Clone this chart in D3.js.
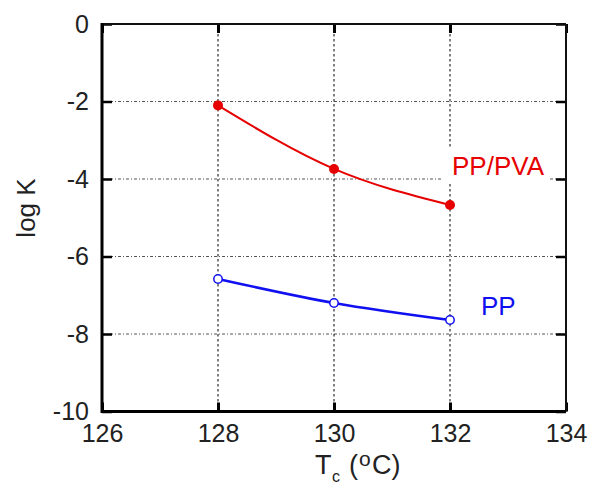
<!DOCTYPE html>
<html>
<head>
<meta charset="utf-8">
<script src="https://cdn.jsdelivr.net/npm/d3@7"></script>
<style>
  body { margin: 0; background: #fff; }
  text { font-family: "Liberation Sans", Arial, sans-serif; }
</style>
</head>
<body>
<svg id="chart" width="591" height="486"></svg>
<script>
// crystallization temperature (x) and log K values
const tc = [128, 130, 132];
const logKPpPva = [-2.1, -3.74, -4.67];
const logKPp = [-6.58, -7.2, -7.64];
const xTicks = [126, 128, 130, 132, 134];
const yTicks = [0, -2, -4, -6, -8, -10];
const seriesNames = ["PP/PVA", "PP"];

var margin = { top: 24, right: 25, bottom: 74.5, left: 102 },
  W = 591, H = 486;

var x = d3.scaleLinear().domain([126, 134]).range([margin.left, W - margin.right]),
  y = d3.scaleLinear().domain([-10, 0]).range([H - margin.bottom, margin.top]);

var svg = d3.select("#chart");
var red = "#e60000", blue = "#1010f0";

// grid
svg.append("g")
  .selectAll("line")
  .data(yTicks.slice(1, -1))
  .enter().append("line")
  .attr("x1", x(126)).attr("x2", x(134))
  .attr("y1", (d) => y(d)).attr("y2", (d) => y(d))
  .attr("stroke", "#555").attr("stroke-width", 1.2)
  .attr("stroke-dasharray", "3,2,1,2");

svg.append("g")
  .selectAll("line")
  .data(xTicks.slice(1, -1))
  .enter().append("line")
  .attr("x1", (d) => x(d)).attr("x2", (d) => x(d))
  .attr("y1", y(0)).attr("y2", y(-10))
  .attr("stroke", "#000").attr("stroke-width", 1)
  .attr("stroke-dasharray", "2.5,2.5");

// axes with inward ticks, plain hyphen for negatives like the original
var axB = d3.axisBottom(x).tickValues(xTicks).tickSize(-9).tickPadding(13),
  axT = d3.axisTop(x).tickValues(xTicks).tickSize(-9).tickFormat(""),
  axL = d3.axisLeft(y).tickValues(yTicks).tickSize(-10).tickPadding(13).tickFormat((d) => String(d)),
  axR = d3.axisRight(y).tickValues(yTicks).tickSize(-10).tickFormat("");

function styleAxis(g, w) {
  g.select(".domain").remove();
  g.selectAll(".tick line").attr("stroke", "#000").attr("stroke-width", w);
  g.selectAll("text").attr("font-size", 25).attr("fill", "#222")
    .style("font-family", "'Liberation Sans', Arial, sans-serif");
}

svg.append("g").attr("transform", "translate(0," + y(-10) + ")").call(axB).call((g) => styleAxis(g, 3));
svg.append("g").attr("transform", "translate(0," + y(0) + ")").call(axT).call((g) => styleAxis(g, 3));
svg.append("g").attr("transform", "translate(" + x(126) + ",0)").call(axL).call((g) => styleAxis(g, 2.5));
svg.append("g").attr("transform", "translate(" + x(134) + ",0)").call(axR).call((g) => styleAxis(g, 2.5));

// frame
svg.append("line").attr("x1", x(126)).attr("x2", x(134)).attr("y1", y(0)).attr("y2", y(0))
  .attr("stroke", "#111").attr("stroke-width", 2);
svg.append("line").attr("x1", x(134)).attr("x2", x(134)).attr("y1", y(0)).attr("y2", y(-10))
  .attr("stroke", "#111").attr("stroke-width", 2);
svg.append("line").attr("x1", x(126)).attr("x2", x(134)).attr("y1", y(-10)).attr("y2", y(-10))
  .attr("stroke", "#000").attr("stroke-width", 3);
svg.append("line").attr("x1", x(126)).attr("x2", x(126)).attr("y1", y(0) - 1).attr("y2", y(-10) + 1.5)
  .attr("stroke", "#000").attr("stroke-width", 3);

// curves
var line = d3.line().x((d) => x(d[0])).y((d) => y(d[1])).curve(d3.curveNatural);
var ppPvaData = tc.map((t, i) => [t, logKPpPva[i]]),
  ppData = tc.map((t, i) => [t, logKPp[i]]);

svg.append("path").datum(ppPvaData).attr("d", line)
  .attr("fill", "none").attr("stroke", red).attr("stroke-width", 2);
svg.append("path").datum(ppData).attr("d", line)
  .attr("fill", "none").attr("stroke", blue).attr("stroke-width", 2.5);

svg.append("g").selectAll("circle").data(ppPvaData).enter().append("circle")
  .attr("cx", (d) => x(d[0])).attr("cy", (d) => y(d[1])).attr("r", 5)
  .attr("fill", red);
svg.append("g").selectAll("circle").data(ppData).enter().append("circle")
  .attr("cx", (d) => x(d[0])).attr("cy", (d) => y(d[1])).attr("r", 4.2)
  .attr("fill", "#fff").attr("stroke", blue).attr("stroke-width", 1.5);

// series labels
svg.append("rect").attr("x", 443).attr("y", 147).attr("width", 107).attr("height", 36).attr("fill", "#fff");
svg.append("text").attr("x", 452).attr("y", 175).attr("font-size", 26).attr("fill", red).text(seriesNames[0]);
svg.append("text").attr("x", 481).attr("y", 315).attr("font-size", 26).attr("fill", blue).text(seriesNames[1]);

// axis titles
svg.append("text").attr("transform", "translate(35,208) rotate(-90)")
  .attr("text-anchor", "middle").attr("font-size", 26).attr("fill", "#222").text("log K");

// x title pieces kept as separate texts so subscript / ring sit cleanly
svg.append("text").attr("x", 315).attr("y", 474).attr("font-size", 27).attr("fill", "#222").text("T");
svg.append("text").attr("x", 332).attr("y", 482).attr("font-size", 16).attr("fill", "#222").text("c");
svg.append("text").attr("x", 349).attr("y", 474).attr("font-size", 27).attr("fill", "#222").text("(");
svg.append("text").attr("x", 359).attr("y", 466).attr("font-size", 21).attr("fill", "#222").text("o");
svg.append("text").attr("x", 372).attr("y", 474).attr("font-size", 27).attr("fill", "#222").text("C)");
</script>
</body>
</html>
